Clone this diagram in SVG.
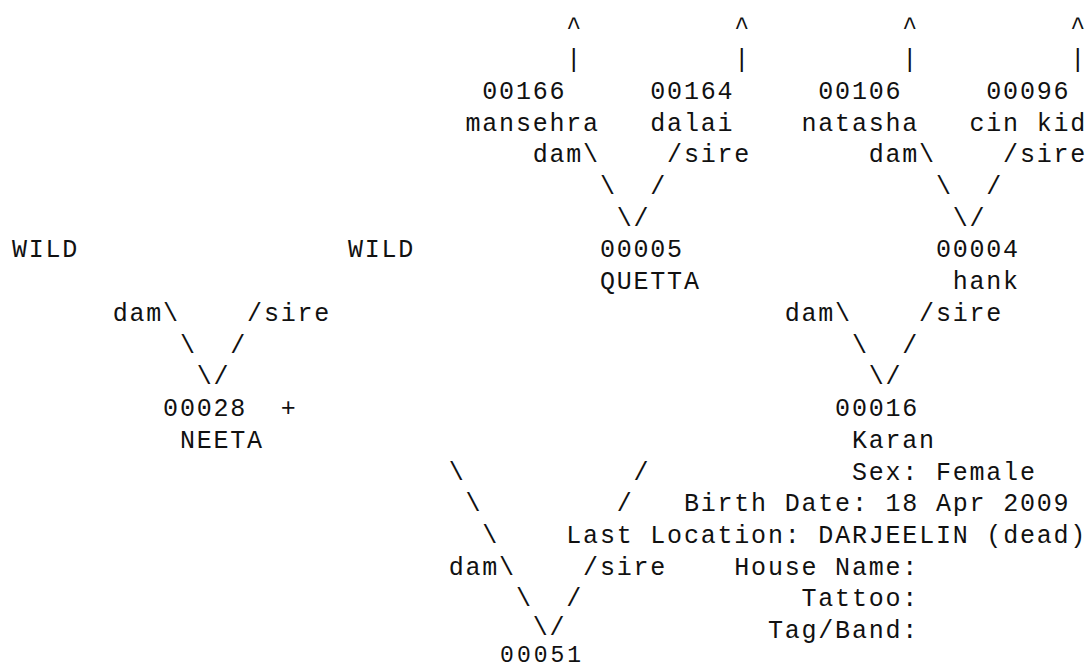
<svg xmlns="http://www.w3.org/2000/svg" width="1089" height="669" viewBox="0 0 1089 669">
<style>
text{font-family:"Liberation Mono","Courier New",monospace;font-size:25px;letter-spacing:1.8px;fill:#111;white-space:pre}
.last{font-size:23px;letter-spacing:3px}
</style>
<rect width="1089" height="669" fill="#fff"/>
<g transform="translate(0.9 0.8)">
<g id="connectors">
<text x="565.4" y="34.7">^</text><text x="733.4" y="34.7">^</text><text x="901.4" y="34.7">^</text><text x="1069.4" y="34.7">^</text>
<text x="565.4" y="66.4">|</text><text x="733.4" y="66.4">|</text><text x="901.4" y="66.4">|</text><text x="1069.4" y="66.4">|</text>
<text x="531.8" y="161.6">dam\</text><text x="666.2" y="161.6">/sire</text>
<text x="867.8" y="161.6">dam\</text><text x="1002.2" y="161.6">/sire</text>
<text x="599" y="193.3">\</text><text x="649.4" y="193.3">/</text>
<text x="935" y="193.3">\</text><text x="985.4" y="193.3">/</text>
<text x="615.8" y="225">\/</text><text x="951.8" y="225">\/</text>
<text x="111.8" y="320.2">dam\</text><text x="246.2" y="320.2">/sire</text>
<text x="783.8" y="320.2">dam\</text><text x="918.2" y="320.2">/sire</text>
<text x="179" y="351.9">\</text><text x="229.4" y="351.9">/</text>
<text x="851" y="351.9">\</text><text x="901.4" y="351.9">/</text>
<text x="195.8" y="383.6">\/</text><text x="867.8" y="383.6">\/</text>
<text x="447.8" y="478.8">\</text><text x="632.6" y="478.8">/</text>
<text x="464.6" y="510.5">\</text><text x="615.8" y="510.5">/</text>
<text x="481.4" y="542.2">\</text>
<text x="447.8" y="573.9">dam\</text><text x="582.2" y="573.9">/sire</text>
<text x="515" y="605.6">\</text><text x="565.4" y="605.6">/</text>
<text x="531.8" y="634">\/</text>
</g>
<g id="n00166"><text x="481.4" y="98.1">00166</text><text x="464.6" y="129.9">mansehra</text></g>
<g id="n00164"><text x="649.4" y="98.1">00164</text><text x="649.4" y="129.9">dalai</text></g>
<g id="n00106"><text x="817.4" y="98.1">00106</text><text x="800.6" y="129.9">natasha</text></g>
<g id="n00096"><text x="985.4" y="98.1">00096</text><text x="968.6" y="129.9">cin kid</text></g>
<g id="wild-dam"><text x="11" y="256.7">WILD</text></g>
<g id="wild-sire"><text x="347" y="256.7">WILD</text></g>
<g id="n00005"><text x="599" y="256.7">00005</text><text x="599" y="288.5">QUETTA</text></g>
<g id="n00004"><text x="935" y="256.7">00004</text><text x="951.8" y="288.5">hank</text></g>
<g id="n00028"><text x="162.2" y="415.3">00028</text><text x="279.8" y="415.3">+</text><text x="179" y="447.1">NEETA</text></g>
<g id="n00016"><text x="834.2" y="415.3">00016</text><text x="851" y="447.1">Karan</text></g>
<g id="details">
<text x="851" y="478.8">Sex: Female</text>
<text x="683" y="510.5">Birth Date: 18 Apr 2009</text>
<text x="565.4" y="542.2">Last Location: DARJEELIN (dead)</text>
<text x="733.4" y="573.9">House Name:</text>
<text x="800.6" y="605.6">Tattoo:</text>
<text x="767" y="637.4">Tag/Band:</text>
</g>
<g id="n00051"><text class="last" x="499.2" y="661.2">00051</text></g>
</g>
</svg>
